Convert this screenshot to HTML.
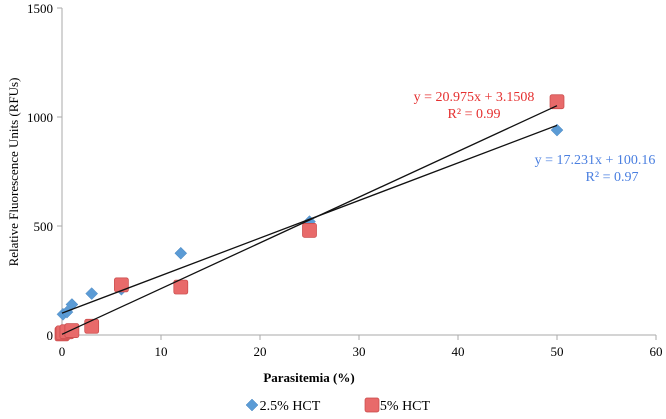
<!DOCTYPE html>
<html><head><meta charset="utf-8"><style>
body{margin:0;background:#fff;}
svg text{font-family:"Liberation Serif",serif;}
</style></head><body>
<svg width="666" height="414">
<g id="axes"></g><g id="marks"></g>
</svg>
<script>
const xTicks=[0,10,20,30,40,50,60];
const yTicks=[0,500,1000,1500];
const blueX=[0.1,0.5,1,3,6,12,25,50];
const blueY=[95,105,140,190,210,375,520,940];
const redX=[0,0.1,0.5,1,3,6,12,25,50];
const redY=[5,10,15,20,40,230,220,480,1070];
const blueFit=[17.231,100.16];
const redFit=[20.975,3.1508];
const X0=62,X1=656,Y0=335,Y1=8;
const sx=v=>X0+(v-0)/60*(X1-X0);
const sy=v=>Y0-(v/1500)*(Y0-Y1);
const NS="http://www.w3.org/2000/svg";
const axes=document.getElementById('axes'),marks=document.getElementById('marks');
function mk(tag,attrs,parent){const e=document.createElementNS(NS,tag);for(const k in attrs)e.setAttribute(k,attrs[k]);parent.appendChild(e);return e;}
let ax=mk('line',{x1:X0,y1:Y0,x2:X1,y2:Y0,stroke:'#aaa'},axes);


let ay=mk('line',{x1:X0,y1:Y0,x2:X0,y2:Y1,stroke:'#aaa'},axes);


xTicks.forEach(t=>{mk('line',{x1:sx(t),x2:sx(t),y1:Y0,y2:Y0+5,stroke:'#aaa'},axes);
 const tx=mk('text',{x:sx(t),y:Y0+21,'text-anchor':'middle','font-size':13},axes);tx.textContent=t;
 
 });
yTicks.forEach(t=>{mk('line',{x1:X0-5,x2:X0,y1:sy(t),y2:sy(t),stroke:'#aaa'},axes);
 const tx=mk('text',{x:X0-9,y:sy(t)+5,'text-anchor':'end','font-size':13},axes);tx.textContent=t;
 
 });
let xt=mk('text',{x:309,y:382,'text-anchor':'middle','font-size':13,'font-weight':'bold'},axes);xt.textContent='Parasitemia (%)';


let yt=mk('text',{x:0,y:0,'text-anchor':'middle','font-size':13,transform:'translate(18,172) rotate(-90)'},axes);yt.textContent='Relative Fluorescence Units (RFUs)';


function diamond(x,y,p){return mk('polygon',{points:`${x},${y-6} ${x+6},${y} ${x},${y+6} ${x-6},${y}`,fill:'#5b9bd5',stroke:'#4a86c0','stroke-width':0.5},p);}
function square(x,y,p){return mk('rect',{x:x-7,y:y-7,width:14,height:14,rx:2,fill:'#e86a6a',stroke:'#c84848','stroke-width':0.7},p);}
blueX.forEach((v,i)=>{const d=diamond(sx(v),sy(blueY[i]),marks);
 
 });
redX.forEach((v,i)=>{const d=square(sx(v),sy(redY[i]),marks);
 
 });
[[blueFit,'trendline-2.5-hct'],[redFit,'trendline-5-hct']].forEach(([f,n])=>{
 const l=mk('line',{x1:sx(0),y1:sy(f[1]),x2:sx(50),y2:sy(f[0]*50+f[1]),stroke:'#111','stroke-width':1.3},marks);
 
 });
function lab(x,y,s,c,n){const t=mk('text',{x:x,y:y,'text-anchor':'middle','font-size':14,fill:c},marks);t.textContent=s;
 
 }
lab(474,101,'y = 20.975x + 3.1508','#e53030','red-equation');
lab(474,118,'R² = 0.99','#e53030','red-r2');
lab(595,164,'y = 17.231x + 100.16','#4a7fe0','blue-equation');
lab(612,181,'R² = 0.97','#4a7fe0','blue-r2');
const lg1=diamond(252,405,marks);


lab(290,410,'2.5% HCT','#000','legend-entry-2.5-hct');
const lg2=square(372,405,marks);


lab(405,410,'5% HCT','#000','legend-entry-5-hct');
</script>
</body></html>
